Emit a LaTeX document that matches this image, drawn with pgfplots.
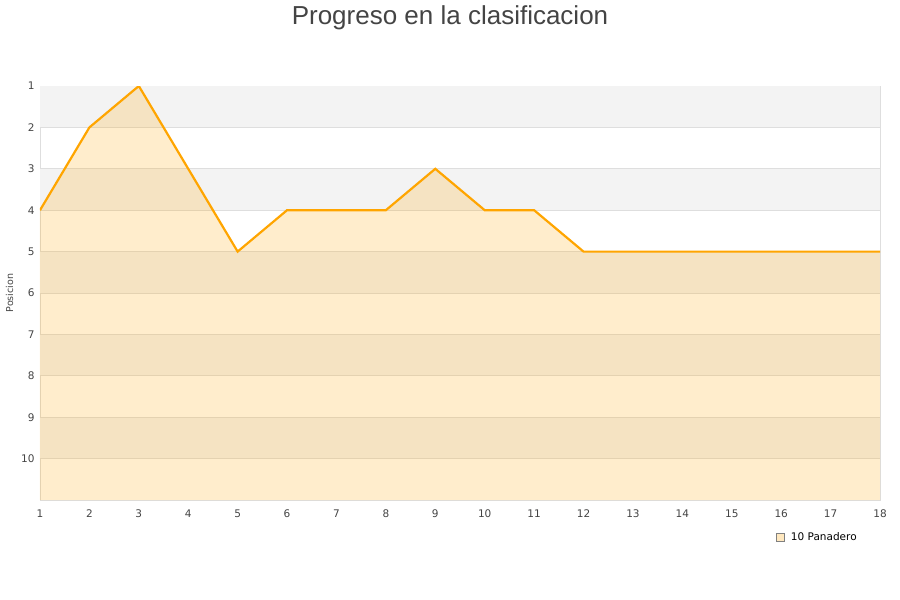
\documentclass[border=0pt]{standalone}
\usepackage{pgfplots}
\pgfplotsset{compat=1.18}
\usepackage{fontspec}
\setmainfont{DejaVu Sans}
\newfontfamily\titlefont{Liberation Sans}
\definecolor{lineor}{HTML}{FFA500}
\definecolor{band}{HTML}{F3F3F3}
\definecolor{gridc}{HTML}{DEDEDE}
\definecolor{txt}{HTML}{444444}
\begin{document}
\begin{tikzpicture}
\path (0pt,0pt) rectangle (900pt,600pt);
\node[font=\titlefont\fontsize{26}{30}\selectfont, text=txt] at (450pt,582pt) {Progreso en la clasificacion};
\begin{axis}[
  at={(40pt,100pt)}, anchor=south west,
  width=840pt, height=414pt, scale only axis,
  xmin=1, xmax=18, ymin=1, ymax=11,
  y dir=reverse,
  xtick={1,...,18}, ytick={1,...,10},
  major tick length=0pt,
  tick label style={font=\fontsize{10.5}{12}\selectfont, text=txt},
  /pgf/number format/assume math mode=true,
  xticklabel style={yshift=-6pt},
  yticklabel style={xshift=-2pt},
  ylabel={Posicion},
  ylabel style={font=\fontsize{9.5}{11}\selectfont, text=txt, yshift=1pt},
  axis line style={draw=gridc},
  legend style={at={(rel axis cs:0.872,-0.089)}, anchor=west, draw=none, fill=none,
    font=\fontsize{10.5}{12}\selectfont, text=black},
  legend cell align=left,
]
% alternating horizontal bands
\fill[band] (axis cs:1,1) rectangle (axis cs:18,2);
\fill[band] (axis cs:1,3) rectangle (axis cs:18,4);
\fill[band] (axis cs:1,5) rectangle (axis cs:18,6);
\fill[band] (axis cs:1,7) rectangle (axis cs:18,8);
\fill[band] (axis cs:1,9) rectangle (axis cs:18,10);
% horizontal grid lines at each position
\foreach \k in {2,...,10} {
  \edef\tmp{\noexpand\draw[gridc, line width=0.8pt] (axis cs:1,\k) -- (axis cs:18,\k);}
  \tmp
}
% shaded area beneath the standing
\addplot[draw=none, fill=lineor, fill opacity=0.2, forget plot] coordinates {
 (1,11) (1,4) (2,2) (3,1) (4,3) (5,5) (6,4) (7,4) (8,4) (9,3) (10,4) (11,4)
 (12,5) (13,5) (14,5) (15,5) (16,5) (17,5) (18,5) (18,11)} -- cycle;
\addplot[draw=lineor, line width=2.2pt, forget plot] coordinates {
 (1,4) (2,2) (3,1) (4,3) (5,5) (6,4) (7,4) (8,4) (9,3) (10,4) (11,4)
 (12,5) (13,5) (14,5) (15,5) (16,5) (17,5) (18,5)};
\addlegendimage{legend image code/.code={\path[draw=none, fill=none] (0pt,0pt) -- (13pt,0pt);
  \draw[fill=lineor!25, draw=gray, line width=0.6pt] (0pt,-4pt) rectangle (8pt,4pt);}}
\addlegendentry{10 Panadero}
\end{axis}
\end{tikzpicture}
\end{document}
